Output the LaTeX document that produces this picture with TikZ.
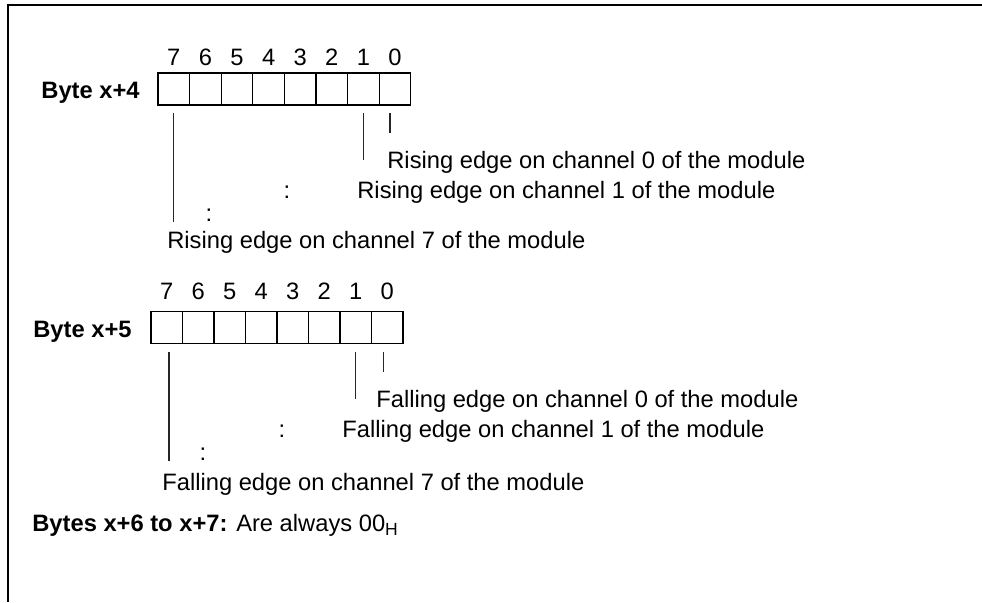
\documentclass[tikz,border=0pt]{standalone}
\usepackage{fontspec}
\setmainfont{Liberation Sans}
\usetikzlibrary{positioning}

\begin{document}
\begin{tikzpicture}[
  x=0.02cm, y=-0.02cm,
  font=\fontsize{13.5}{16}\selectfont,
  frame/.style={draw=black, line width=0.8pt},
  cell/.style={draw=black, line width=0.7pt, minimum width=0.632cm, minimum height=0.64cm, inner sep=0pt, outer sep=0pt},
  bitno/.style={anchor=base, inner sep=0pt},
  head/.style={anchor=base east, inner sep=0pt, font=\fontsize{13.5}{16}\selectfont\bfseries},
  note/.style={anchor=base west, inner sep=0pt},
  dots/.style={anchor=base, inner sep=0pt},
  lead/.style={draw=black!85, line width=0.6pt}
]
  \useasboundingbox (0,0) rectangle (982,602);
  \draw[frame] (982,5) -- (8,5) -- (8,602);

  % byte x+4
  \foreach \b [count=\i from 0] in {7,6,...,0} {
    \node[cell] (r\b) at ({173.8+31.6*\i},89) {};
    \node[bitno] (rn\b) at ([yshift=0.16cm]r\b.north) {\b};
  }
  \node[head] (byte4) at ([xshift=-0.36cm, yshift=-0.18cm]r7.west) {Byte x+4};

  \draw[lead] ([yshift=-0.16cm]r7.south) -- ++(0,109);
  \draw[lead] ([yshift=-0.16cm]r1.south) -- ++(0,47);
  \draw[lead] ([xshift=-0.1cm, yshift=-0.16cm]r0.south) -- ++(0,20);

  \node[note] (rise0) at (387,168) {Rising edge on channel 0 of the module};
  \node[note] (rise1) at (357,198) {Rising edge on channel 1 of the module};
  \node[dots] (rdot1) at (287,198) {:};
  \node[dots] (rdot2) at (209,221) {:};
  \node[note] (rise7) at (167,248) {Rising edge on channel 7 of the module};

  % byte x+5
  \foreach \b [count=\i from 0] in {7,6,...,0} {
    \node[cell] (f\b) at ({166.75+31.5*\i},327.5) {};
    \node[bitno] (fn\b) at ([yshift=0.24cm]f\b.north) {\b};
  }
  \node[head] (byte5) at ([xshift=-0.38cm, yshift=-0.19cm]f7.west) {Byte x+5};

  \draw[lead] ([xshift=0.045cm, yshift=-0.16cm]f7.south) -- ++(0,109);
  \draw[lead] ([yshift=-0.16cm]f1.south) -- ++(0,47);
  \draw[lead] ([xshift=-0.08cm, yshift=-0.16cm]f0.south) -- ++(0,20);

  \node[note] (fall0) at (376,407) {Falling edge on channel 0 of the module};
  \node[note] (fall1) at (342,437) {Falling edge on channel 1 of the module};
  \node[dots] (fdot1) at (282,437) {:};
  \node[dots] (fdot2) at (203,460) {:};
  \node[note] (fall7) at (162,490) {Falling edge on channel 7 of the module};

  % bytes x+6 to x+7
  \node[note] (rest) at (32,531) {\textbf{Bytes x+6 to x+7:} Are always 00\raisebox{-0.08cm}{\fontsize{10}{12}\selectfont H}};
\end{tikzpicture}
\end{document}
